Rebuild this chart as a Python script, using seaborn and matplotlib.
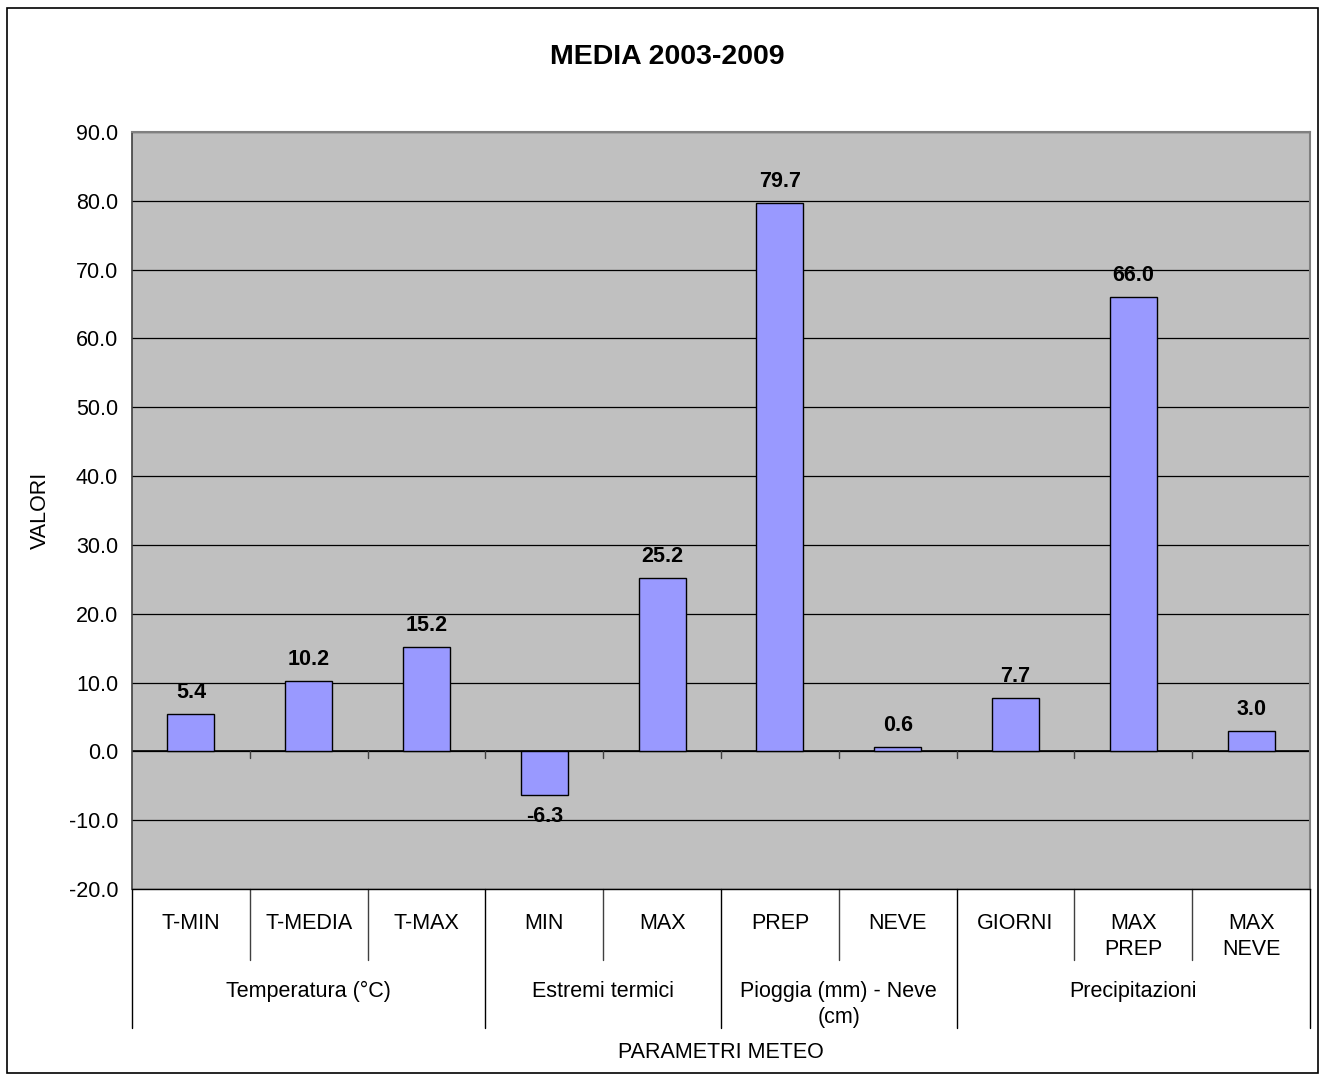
import matplotlib
matplotlib.use("Agg")
import matplotlib.pyplot as plt
from matplotlib.patches import Rectangle
import seaborn as sns
import pandas as pd

# Data
categories = ["T-MIN", "T-MEDIA", "T-MAX", "MIN", "MAX", "PREP", "NEVE",
              "GIORNI", "MAX\nPREP", "MAX\nNEVE"]
values = [5.4, 10.2, 15.2, -6.3, 25.2, 79.7, 0.6, 7.7, 66.0, 3.0]
groups = ["Temperatura (°C)", "Estremi termici", "Pioggia (mm) - Neve\n(cm)", "Precipitazioni"]
group_sizes = [3, 2, 2, 3]
y_ticks = [-20, -10, 0, 10, 20, 30, 40, 50, 60, 70, 80, 90]

df = pd.DataFrame({"categoria": categories, "valore": values})

sns.set_style("white")
plt.rcParams["font.family"] = ["Liberation Sans", "DejaVu Sans"]
plt.rcParams["text.color"] = "black"
plt.rcParams["axes.labelcolor"] = "black"
plt.rcParams["xtick.color"] = "black"
plt.rcParams["ytick.color"] = "black"

FS = 15.5

W, H = 1325, 1077
fig = plt.figure(figsize=(W / 100, H / 100), dpi=100)
fig.patch.set_facecolor("white")

# outer chart frame
fig.patches.append(Rectangle((7 / W, 1 - 1073 / H), (1318 - 7) / W, (1073 - 8) / H,
                             transform=fig.transFigure, fill=False,
                             edgecolor="black", linewidth=1.2))

left, right, top, bottom = 132, 1310, 132, 889
ax = fig.add_axes([left / W, 1 - bottom / H, (right - left) / W, (bottom - top) / H])
ax.set_facecolor("#C0C0C0")

sns.barplot(data=df, x="categoria", y="valore", order=categories, color="#9999FF",
            saturation=1, width=0.4, edgecolor="black", linewidth=1.0, ax=ax, zorder=3)

ax.set_ylim(-20, 90)
ax.set_xlim(-0.5, len(categories) - 0.5)
ax.set_yticks(y_ticks)
ax.set_yticklabels([f"{v:.1f}" for v in y_ticks], fontsize=FS)
ax.tick_params(axis="y", direction="out", length=6, width=1, color="black", pad=4)
ax.set_xticks([])
ax.set_xlabel("")
ax.set_ylabel("")

ax.yaxis.grid(True, color="black", linewidth=0.9)
ax.set_axisbelow(True)
ax.axhline(0, color="black", linewidth=1.2, zorder=2)

for side in ["top", "right"]:
    ax.spines[side].set_color("#808080")
    ax.spines[side].set_linewidth(1.5)
ax.spines["left"].set_color("#404040")
ax.spines["left"].set_linewidth(1.2)
ax.spines["bottom"].set_color("black")
ax.spines["bottom"].set_linewidth(1.0)

# tick marks on the zero line between categories
for i in range(1, len(categories)):
    ax.plot([i - 0.5, i - 0.5], [0, -0.9], color="#404040", linewidth=1.0, zorder=2)

# value labels
for i, v in enumerate(values):
    off = 15.5 if v >= 0 else -15.5
    ax.annotate(f"{v:.1f}", (i, v), xytext=(0, off), textcoords="offset points",
                ha="center", va="center", fontsize=FS, fontweight="bold", zorder=5)

# multi-level category axis
trans = ax.get_xaxis_transform()
plot_h = bottom - top


def frac(py):
    return -(py - bottom) / plot_h


for i, lab in enumerate(categories):
    ax.text(i, frac(913), lab, transform=trans, ha="center", va="top",
            fontsize=FS, linespacing=1.3)

bounds = [0]
for s in group_sizes:
    bounds.append(bounds[-1] + s)

for i in range(len(categories) + 1):
    x = i - 0.5
    if i in bounds:
        ax.plot([x, x], [0, frac(1028)], transform=trans, color="black",
                linewidth=1.0, clip_on=False)
    else:
        ax.plot([x, x], [0, frac(960)], transform=trans, color="#404040",
                linewidth=1.0, clip_on=False)

for g, lab in enumerate(groups):
    xc = (bounds[g] + bounds[g + 1] - 1) / 2
    ax.text(xc, frac(981), lab, transform=trans, ha="center", va="top",
            fontsize=FS, linespacing=1.3)

fig.text((left + right) / 2 / W, 1 - 1052 / H, "PARAMETRI METEO", ha="center",
         va="center", fontsize=FS)
fig.text(40 / W, 1 - 510 / H, "VALORI", ha="center", va="center",
         rotation=90, fontsize=FS)
fig.text(667 / W, 1 - 57 / H, "MEDIA 2003-2009", ha="center", va="center",
         fontsize=20.5, fontweight="bold")

fig.savefig("out.png", dpi=100)
